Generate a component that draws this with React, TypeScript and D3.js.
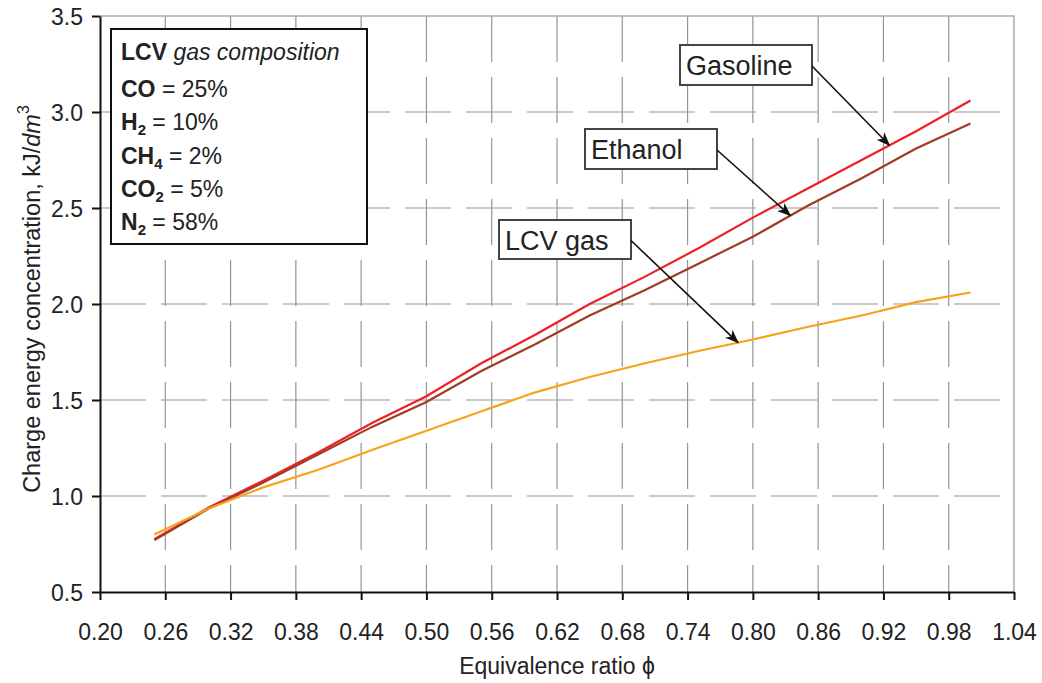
import * as d3 from 'd3';
import { useEffect, useRef } from 'react';

// equivalence ratio values where the curves were read
const phi = [0.25, 0.30, 0.35, 0.40, 0.45, 0.50, 0.55, 0.60, 0.65, 0.70, 0.75, 0.80, 0.85, 0.90, 0.95, 1.00];
const gasoline = [0.775, 0.94, 1.08, 1.225, 1.38, 1.52, 1.69, 1.84, 2.00, 2.14, 2.29, 2.45, 2.60, 2.75, 2.90, 3.06];
const ethanol = [0.77, 0.935, 1.07, 1.215, 1.36, 1.49, 1.65, 1.79, 1.94, 2.07, 2.21, 2.35, 2.51, 2.655, 2.81, 2.94];
const lcvGas = [0.80, 0.935, 1.045, 1.135, 1.24, 1.34, 1.44, 1.54, 1.62, 1.69, 1.755, 1.815, 1.88, 1.94, 2.01, 2.06];

const xTicks = [0.20, 0.26, 0.32, 0.38, 0.44, 0.50, 0.56, 0.62, 0.68, 0.74, 0.80, 0.86, 0.92, 0.98, 1.04];
const yTicks = [0.5, 1.0, 1.5, 2.0, 2.5, 3.0, 3.5];

const seriesNames = ['Gasoline', 'Ethanol', 'LCV gas'];
const seriesColors = ['#ee2024', '#a23b26', '#f7a21b'];

// legend lines: [bold part, subscript, rest]
const compBold = ['CO', 'H', 'CH', 'CO', 'N'];
const compSub = ['', '2', '4', '2', '2'];
const compRest = [' = 25%', ' = 10%', ' = 2%', ' = 5%', ' = 58%'];

const FONT = '"Liberation Sans", Arial, Helvetica, sans-serif';

const App = () => {
    const ref = useRef<SVGSVGElement>(null);

    useEffect(() => {
        drawChart();
    }, []);

    const drawChart = () => {
        const width: any = 1042;
        const height: any = 683;
        const left = 100, right = 1014, top = 16, bottom = 592;

        const svg: any = d3.select(ref.current);
        svg.selectAll('*').remove();
        svg.attr('width', width).attr('height', height)
            .style('font-family', FONT);

        const x: any = d3.scaleLinear().domain([0.2, 1.04]).range([left, right]);
        const y: any = d3.scaleLinear().domain([0.5, 3.5]).range([bottom, top]);

        // grid
        svg.append('g')
            .selectAll('line')
            .data(xTicks.slice(1, -1))
            .enter()
            .append('line')
            .attr('x1', (d: any) => x(d)).attr('x2', (d: any) => x(d))
            .attr('y1', top).attr('y2', bottom)
            .attr('stroke', '#959595')
            .attr('stroke-width', 1.2)
            .attr('stroke-dasharray', '46,15');
        svg.append('g')
            .selectAll('line')
            .data(yTicks.slice(1, -1))
            .enter()
            .append('line')
            .attr('x1', left).attr('x2', right)
            .attr('y1', (d: any) => y(d)).attr('y2', (d: any) => y(d))
            .attr('stroke', '#959595')
            .attr('stroke-width', 1.2)
            .attr('stroke-dasharray', '46,15');

        // top / right frame
        svg.append('path')
            .attr('d', `M${left},${top}H${right}V${bottom}`)
            .attr('fill', 'none')
            .attr('stroke', '#aaaaaa')
            .attr('stroke-width', 1.5);

        // axes
        const xAxis = d3.axisBottom(x).tickValues(xTicks).tickFormat((d: any) => d3.format('.2f')(d)).tickSize(8).tickSizeOuter(0);
        const gx: any = svg.append('g').attr('transform', `translate(0,${bottom})`).call(xAxis);
        gx.select('.domain').attr('stroke', '#111').attr('stroke-width', 2);
        gx.selectAll('.tick line').attr('stroke', '#111').attr('stroke-width', 2);
        gx.selectAll('.tick text')
            .attr('font-family', FONT).attr('font-size', 23).attr('fill', '#222')
            .attr('dy', null).attr('y', 48);

        const yAxis = d3.axisLeft(y).tickValues(yTicks).tickFormat((d: any) => d3.format('.1f')(d)).tickSize(8).tickSizeOuter(0);
        const gy: any = svg.append('g').attr('transform', `translate(${left},0)`).call(yAxis);
        gy.select('.domain').attr('stroke', '#111').attr('stroke-width', 2);
        gy.selectAll('.tick line').attr('stroke', '#111').attr('stroke-width', 2);
        gy.selectAll('.tick text')
            .attr('font-family', FONT).attr('font-size', 23).attr('fill', '#222')
            .attr('x', -17).attr('dy', '0.35em');

        // axis titles
        svg.append('text')
            .attr('x', 557).attr('y', 674)
            .attr('text-anchor', 'middle')
            .attr('font-size', 23).attr('fill', '#222')
            .text('Equivalence ratio \u03d5');

        const yt: any = svg.append('text')
            .attr('transform', 'translate(40,299) rotate(-90)')
            .attr('text-anchor', 'middle')
            .attr('font-size', 23.5).attr('fill', '#222');
        yt.append('tspan').text('Charge energy concentration, kJ/');
        yt.append('tspan').attr('font-style', 'italic').text('dm');
        yt.append('tspan').attr('font-size', 16).attr('dy', -11).text('3');

        // curves
        const allSeries = [gasoline, ethanol, lcvGas];
        const line: any = d3.line()
            .x((d: any) => x(d[0]))
            .y((d: any) => y(d[1]));
        allSeries.forEach((vals, i) => {
            svg.append('path')
                .datum(phi.map((p, j) => [p, vals[j]]))
                .attr('d', line)
                .attr('fill', 'none')
                .attr('stroke', seriesColors[i])
                .attr('stroke-width', 2.2);
        });

        // arrow marker
        svg.append('defs').append('marker')
            .attr('id', 'arr')
            .attr('viewBox', '0 0 14 11')
            .attr('refX', 13).attr('refY', 5.5)
            .attr('markerWidth', 14).attr('markerHeight', 11)
            .attr('markerUnits', 'userSpaceOnUse')
            .attr('orient', 'auto')
            .append('path')
            .attr('d', 'M0,0 L14,5.5 L0,11 L4,5.5 Z')
            .attr('fill', '#111');

        // callout labels: box [x, y, w, h], arrow from box edge to the curve point (phi)
        const boxes = [[680, 45, 132, 40], [585, 129, 132, 40], [499, 220, 132, 39]];
        const arrowAt = [0.9255, 0.8345, 0.7864];
        allSeries.forEach((vals, i) => {
            const b = boxes[i];
            const g: any = svg.append('g');
            g.append('rect')
                .attr('x', b[0]).attr('y', b[1]).attr('width', b[2]).attr('height', b[3])
                .attr('fill', '#fff').attr('stroke', '#444').attr('stroke-width', 2);
            g.append('text')
                .attr('x', b[0] + 6).attr('y', b[1] + 30)
                .attr('font-size', 27).attr('fill', '#222')
                .text(seriesNames[i]);
            const px = arrowAt[i];
            const py = d3.scaleLinear().domain(phi).range(vals)(px);
            svg.append('line')
                .attr('x1', b[0] + b[2]).attr('y1', b[1] + b[3] / 2 + 1)
                .attr('x2', x(px)).attr('y2', y(py))
                .attr('stroke', '#111').attr('stroke-width', 1.6)
                .attr('marker-end', 'url(#arr)');
        });

        // composition box
        const lg: any = svg.append('g');
        lg.append('rect')
            .attr('x', 111).attr('y', 29).attr('width', 256).attr('height', 215)
            .attr('fill', '#fff').attr('stroke', '#111').attr('stroke-width', 2);
        const t0: any = lg.append('text').attr('x', 121).attr('y', 60).attr('font-size', 23).attr('fill', '#222');
        t0.append('tspan').attr('font-weight', 'bold').text('LCV ');
        t0.append('tspan').attr('font-style', 'italic').text('gas composition');
        compBold.forEach((c, i) => {
            const t: any = lg.append('text')
                .attr('x', 121).attr('y', 97 + i * 33.3)
                .attr('font-size', 23).attr('fill', '#222');
            t.append('tspan').attr('font-weight', 'bold').text(c);
            if (compSub[i]) {
                t.append('tspan').attr('font-weight', 'bold').attr('font-size', 15).attr('dy', 5).text(compSub[i]);
                t.append('tspan').attr('dy', -5).text(compRest[i]);
            } else {
                t.append('tspan').text(compRest[i]);
            }
        });
    };

    return (
        <svg ref={ref} style={{ position: 'absolute', left: 0, top: 0 }}></svg>
    );
};

export default App;
